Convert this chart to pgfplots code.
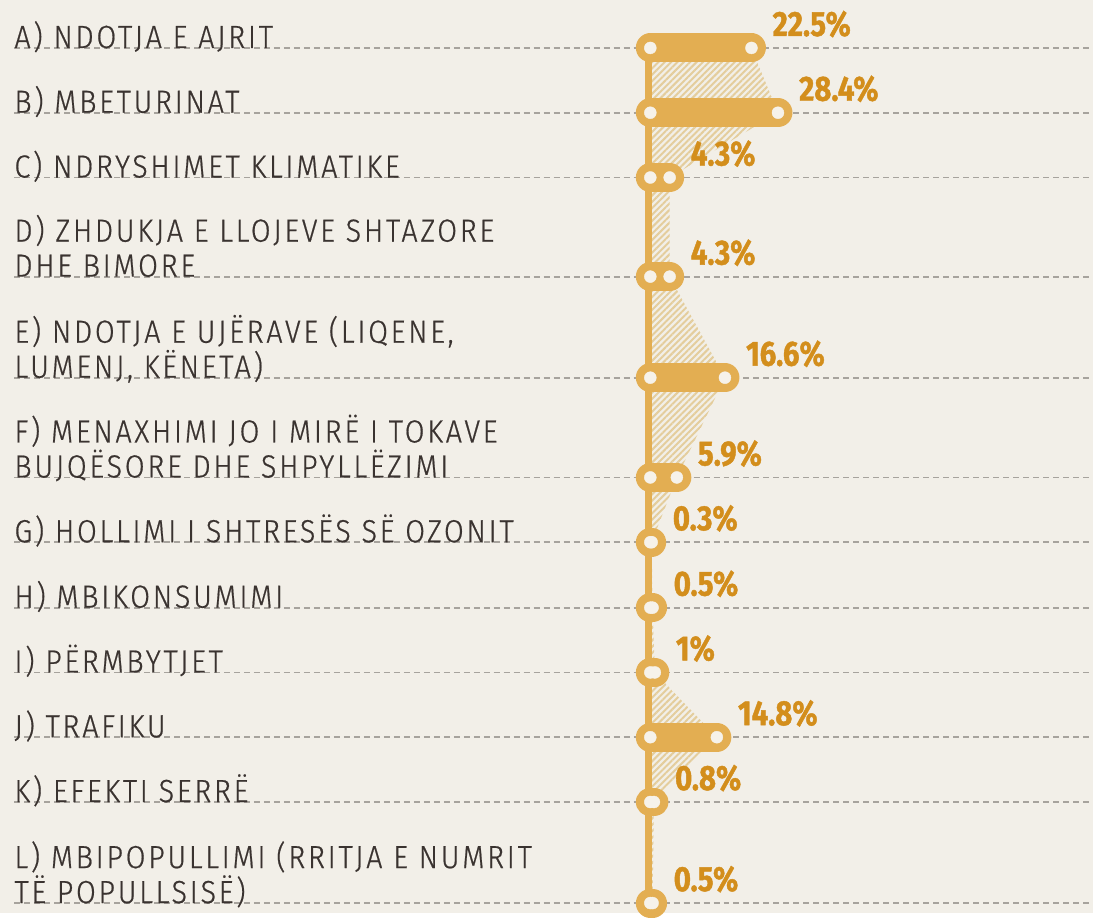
\documentclass[border=0pt]{standalone}
\usepackage{fontspec}
\usepackage{pgfplots}
\usepackage{pgfplotstable}
\pgfplotsset{compat=1.18}
\usetikzlibrary{patterns.meta}

\newfontfamily\lab{Fira Sans Light}[FakeStretch=0.9, LetterSpace=8.5, FakeBold=0.6]
\newfontfamily\val{Fira Sans}[FakeStretch=0.84, BoldFeatures={FakeBold=1.2}]

\definecolor{bg}{HTML}{F2EFE8}
\definecolor{gold}{HTML}{E3AE52}
\definecolor{valc}{HTML}{D38E1C}
\definecolor{hatch}{HTML}{E4CD9C}
\definecolor{dashc}{HTML}{A7A39D}
\definecolor{txt}{HTML}{3A3330}
\definecolor{hole}{HTML}{F6F2EA}

% row position (top to bottom) and share in %
\pgfplotstableread{
key row val
A 0 22.5
B 1 28.4
C 2 4.3
D 3.53 4.3
E 5.09 16.6
F 6.63 5.9
G 7.63 0.3
H 8.64 0.5
I 9.64 1
J 10.64 14.8
K 11.64 0.8
L 13.2 0.5
}\shares

\newcommand{\lbl}[2]{\node[anchor=base west, inner sep=0pt, text=txt, font=\lab\fontsize{32}{35}\selectfont] at (axis cs:-141.5,#1) {#2};}
\newcommand{\lbltwo}[3]{\lbl{#1}{#3}
  \node[anchor=base west, inner sep=0pt, text=txt, font=\lab\fontsize{32}{35}\selectfont, yshift=35pt] at (axis cs:-141.5,#1) {#2};}

\begin{document}
\begin{tikzpicture}
\begin{axis}[
    width=1094pt, height=914pt,
    scale only axis,
    xmin=-144.67, xmax=98.44,
    ymin=-0.740, ymax=13.354,
    y dir=reverse,
    hide axis,
    clip=false,
]
\fill[bg] (rel axis cs:0,0) rectangle (rel axis cs:1,1);

% dashed guide lines
\addplot[dashc, line width=1.8pt, dash pattern=on 6pt off 4pt,
    quiver={u=240, v=0}] table[x expr=-141.5, y=row] {\shares};

% hatched area between the spine and the bar ends
\addplot[draw=none, pattern={Lines[angle=45, distance=4.5pt, line width=2pt]}, pattern color=hatch]
    table[x=val, y=row] {\shares} -- (axis cs:0,13.2) -- (axis cs:0,0) -- cycle;

% spine
\addplot[gold, line width=7pt] table[x expr=-0.3, y=row] {\shares};

% bars
\addplot[gold, line width=29pt, line cap=round,
    quiver={u=\thisrow{val}, v=0, every arrow/.append style={line cap=round}}]
    table[x expr=0, y=row] {\shares};
\addplot[hole, only marks, mark=*, mark size=6pt, mark options={draw=none, fill=hole}]
    table[x expr=0, y=row] {\shares};
\addplot[hole, only marks, mark=*, mark size=6pt, mark options={draw=none, fill=hole}]
    table[x=val, y=row] {\shares};

% value labels
\addplot[only marks, mark=none, point meta=explicit symbolic,
    nodes near coords={\pgfplotspointmeta\%},
    nodes near coords style={anchor=base west, inner sep=0pt, xshift=21pt, yshift=12pt,
        text=valc, font=\val\bfseries\fontsize{35}{36}\selectfont}]
    table[x=val, y=row, meta=val] {\shares};

% category labels
\lbl{0}{A) NDOTJA E AJRIT}
\lbl{1}{B) MBETURINAT}
\lbl{2}{C) NDRYSHIMET KLIMATIKE}
\lbltwo{3.53}{D) ZHDUKJA E LLOJEVE SHTAZORE}{DHE BIMORE}
\lbltwo{5.09}{E) NDOTJA E UJËRAVE (LIQENE,}{LUMENJ, KËNETA)}
\lbltwo{6.63}{F) MENAXHIMI JO I MIRË I TOKAVE}{BUJQËSORE DHE SHPYLLËZIMI}
\lbl{7.63}{G) HOLLIMI I SHTRESËS SË OZONIT}
\lbl{8.64}{H) MBIKONSUMIMI}
\lbl{9.64}{I) PËRMBYTJET}
\lbl{10.64}{J) TRAFIKU}
\lbl{11.64}{K) EFEKTI SERRË}
\lbltwo{13.2}{L) MBIPOPULLIMI (RRITJA E NUMRIT}{TË POPULLSISË)}
\end{axis}
\end{tikzpicture}
\end{document}
